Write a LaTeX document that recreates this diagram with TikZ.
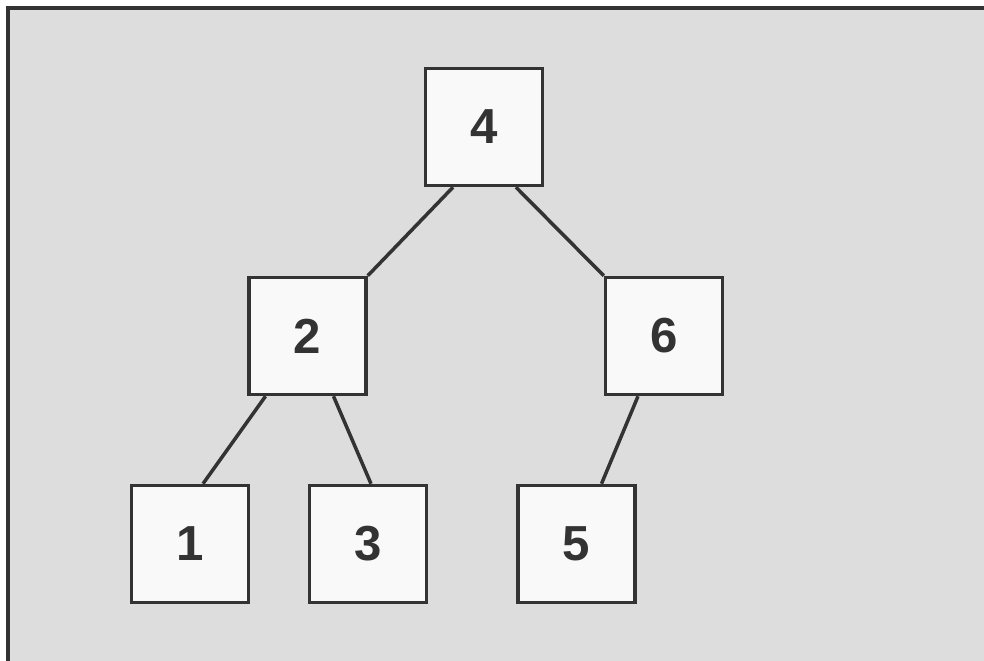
\documentclass[tikz,border=0pt]{standalone}
\usepackage{fontspec}
\setmainfont{Liberation Sans}
\definecolor{paper}{gray}{0.865}
\definecolor{ink}{gray}{0.2}
\definecolor{boxfill}{gray}{0.975}
\begin{document}
\begin{tikzpicture}[
  x=0.02cm, y=-0.02cm,
  key/.style={draw=ink, fill=boxfill, line width=2pt, minimum size=2.34cm, inner sep=0pt,
    font=\fontsize{28}{30}\selectfont\bfseries, text=ink},
  edge/.style={draw=ink, line width=2pt},
]
  \useasboundingbox (0,0) rectangle (984,661);
  \fill[paper] (8,8) rectangle (984,661);
  \draw[ink, line width=2.6pt] (8,661) -- (8,8) -- (984,8);

  \node[key] (k4) at (484,127)   {4};
  \node[key] (k2) at (307.5,336) {2};
  \node[key] (k6) at (664,336)   {6};
  \node[key] (k1) at (190,544)   {1};
  \node[key] (k3) at (368,544)   {3};
  \node[key] (k5) at (576.5,544) {5};

  \draw[edge] ([shift={(-31,0)}]k4.south) -- (k2.north east);
  \draw[edge] ([shift={(32,0)}]k4.south) -- (k6.north west);
  \draw[edge] ([shift={(-42,0)}]k2.south) -- ([shift={(13,0)}]k1.north);
  \draw[edge] ([shift={(26,0)}]k2.south) -- ([shift={(3,0)}]k3.north);
  \draw[edge] ([shift={(-26,0)}]k6.south) -- ([shift={(25,0)}]k5.north);
\end{tikzpicture}
\end{document}
